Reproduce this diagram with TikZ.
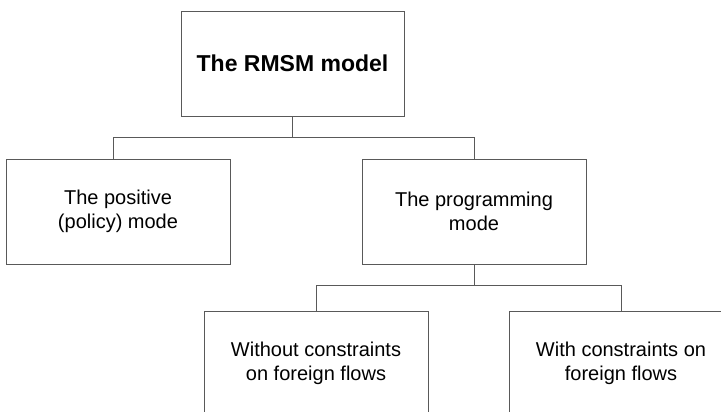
\documentclass[tikz,border=0pt]{standalone}
\usepackage{fontspec}
\setmainfont{Liberation Sans}
\usetikzlibrary{positioning,calc}
\begin{document}
\begin{tikzpicture}[x=1pt,y=1pt,node distance=148pt,on grid,
  box/.style={draw=black!65,line width=0.9pt,rectangle,minimum width=224pt,minimum height=105pt,align=center,inner sep=0pt,font=\fontsize{20}{24}\selectfont},
  link/.style={draw=black!65,line width=0.9pt}]
\clip (0,0) rectangle (721,-412);
\node[box,minimum width=223pt,font=\fontsize{23}{27}\selectfont\bfseries](rmsm) at (292.5,-63.5){The RMSM model};
\node[box](positive)[below=of rmsm,xshift=-174.5pt]{The positive\\(policy) mode};
\node[box](programming)[below=of rmsm,xshift=181.5pt]{The programming\\mode};
\node[box](noconstr)[below=152pt of programming,xshift=-158pt]{Without constraints\\on foreign flows};
\node[box](withconstr)[below=152pt of programming,xshift=147pt]{With constraints on\\foreign flows};
\node[coordinate](bus_1)[below=21pt of rmsm.south]{};
\node[coordinate](bus_2)[below=20.5pt of programming.south]{};
\draw[link] (rmsm.south) -- (bus_1) -| ([xshift=-5pt]positive.north);
\draw[link] (bus_1) -| (programming.north);
\draw[link] (programming.south) -- (bus_2) -| (noconstr.north);
\draw[link] (bus_2) -| (withconstr.north);
\end{tikzpicture}
\end{document}
